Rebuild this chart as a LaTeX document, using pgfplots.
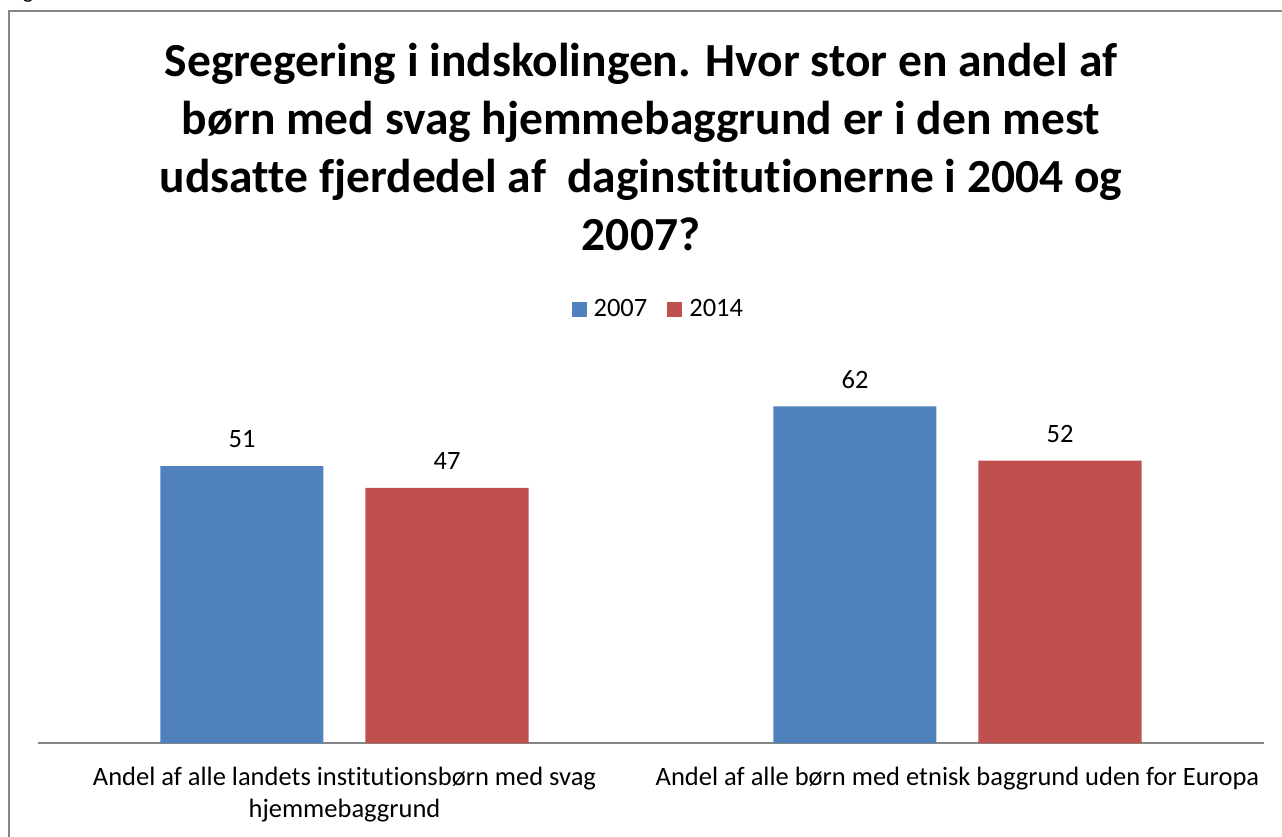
\documentclass[border=0pt]{standalone}
\usepackage{pgfplots}
\pgfplotsset{compat=1.18}
\usepackage{fontspec}
\setmainfont{Carlito}[Ligatures=NoCommon]
\definecolor{cblue}{HTML}{4F81BD}
\definecolor{cred}{HTML}{C0504D}
\definecolor{cgray}{HTML}{868686}
\pgfplotsset{sqleg/.style={legend image code/.code={\fill[##1] (0pt,-7.5pt) rectangle (15pt,7.5pt);}}}
\begin{document}
\begin{tikzpicture}[x=1pt,y=1pt]
\useasboundingbox (0,0) rectangle (1282,836);
\draw[cgray, line width=2pt] (9,-5) -- (9,825) -- (1290,825);
\node[anchor=base, inner sep=0pt, font=\fontsize{22}{26}\selectfont] at (28,837) {g};
\begin{scope}[font=\bfseries\fontsize{47.5}{58}\selectfont]
\node[anchor=base, inner sep=0pt] at (641,759) {Segregering i indskolingen. Hvor stor en andel af};
\node[anchor=base, inner sep=0pt] at (641,701) {børn med svag hjemmebaggrund er i den mest};
\node[anchor=base, inner sep=0pt] at (641,643) {udsatte fjerdedel af\ \ daginstitutionerne i 2004 og};
\node[anchor=base, inner sep=0pt] at (641,585) {2007?};
\end{scope}
\begin{axis}[
  at={(38pt,93pt)}, anchor=south west, scale only axis,
  width=1226pt, height=380pt,
  ymin=0, ymax=70, xmin=-0.5, xmax=1.5,
  ybar=42pt, bar width=163pt,
  axis y line=none, axis x line*=bottom,
  x axis line style={cgray, line width=2pt},
  xtick={0,1},
  xticklabels={{Andel af alle landets institutionsbørn med svag\\hjemmebaggrund},{Andel af alle børn med etnisk baggrund uden for Europa}},
  major tick length=0pt,
  xticklabel style={align=center, font=\fontsize{26.5}{32.5}\selectfont, anchor=north, inner sep=0pt, yshift=-23.5pt},
  /pgf/number format/assume math mode=true,
  nodes near coords,
  every node near coord/.append style={font=\fontsize{26.5}{30}\selectfont, anchor=south, inner sep=0pt, yshift=18pt, black},
  legend style={at={(0.506,1.142)}, anchor=center, draw=none, fill=none, legend columns=2,
    font=\fontsize{26.5}{30}\selectfont,
    /tikz/every even column/.append style={column sep=18pt},
    /tikz/every odd column/.append style={column sep=5pt}},
]
\addplot[fill=cblue, draw=none, sqleg] coordinates {(0,51) (1,62)};
\addplot[fill=cred, draw=none, sqleg] coordinates {(0,47) (1,52)};
\legend{2007,2014}
\end{axis}
\end{tikzpicture}
\end{document}
